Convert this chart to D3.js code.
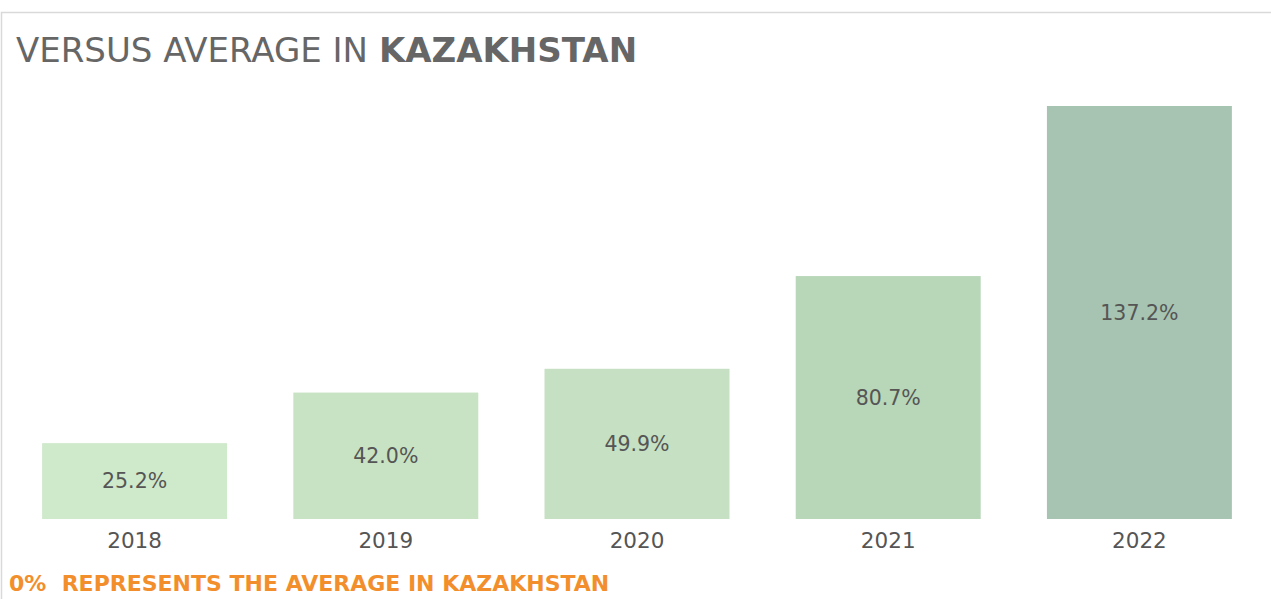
<!DOCTYPE html>
<html>
<head>
<meta charset="utf-8">
<script src="https://cdn.jsdelivr.net/npm/d3@7"></script>
<style>
  body { margin: 0; background: #fff; }
  svg { display: block; font-family: "DejaVu Sans", sans-serif; }
</style>
</head>
<body>
<svg id="chart" width="1271" height="599"></svg>
<script>
var years = ["2018", "2019", "2020", "2021", "2022"];
var values = [25.2, 42.0, 49.9, 80.7, 137.2];
var barColors = ["#cfe9cb", "#c8e3c3", "#c5e0c2", "#b8d6b8", "#a6c4b1"];

var margin = { top: 106, right: 6, bottom: 80, left: 9 },
  width = 1271 - margin.left - margin.right,
  height = 599 - margin.top - margin.bottom;

var svg = d3.select("#chart");

// frame lines (top + left)
svg.append("path")
  .attr("d", "M1.5,599 V12.5 H1271")
  .attr("fill", "none")
  .attr("stroke", "#d9d9d9")
  .attr("stroke-width", 1.5);

var title = svg.append("text")
  .attr("x", 16)
  .attr("y", 62)
  .attr("fill", "#666")
  .style("font-size", "34px");
title.append("tspan").text("VERSUS AVERAGE IN ");
title.append("tspan").style("font-weight", "bold").text("KAZAKHSTAN");

var x = d3.scaleBand()
  .domain(years)
  .range([0, width])
  .paddingInner(0.2637)
  .paddingOuter(0.13185);

var y = d3.scaleLinear().domain([0, 137.2]).range([height, 0]);

var g = svg.append("g")
  .attr("transform", "translate(" + margin.left + "," + margin.top + ")");

g.selectAll(".bar")
  .data(values)
  .enter()
  .append("rect")
  .attr("class", "bar")
  .attr("x", function(d, i) { return x(years[i]); })
  .attr("y", function(d) { return y(d); })
  .attr("width", x.bandwidth())
  .attr("height", function(d) { return height - y(d); })
  .attr("fill", function(d, i) { return barColors[i]; });

g.selectAll(".label")
  .data(values)
  .enter()
  .append("text")
  .attr("class", "label")
  .attr("x", function(d, i) { return x(years[i]) + x.bandwidth() / 2; })
  .attr("y", function(d) { return (y(d) + height) / 2; })
  .attr("dy", "0.35em")
  .attr("text-anchor", "middle")
  .attr("fill", "#555")
  .style("font-size", "20.5px")
  .text(function(d) { return d.toFixed(1) + "%"; });

var xAxis = g.append("g")
  .attr("transform", "translate(0," + height + ")")
  .call(d3.axisBottom(x).tickSize(0).tickPadding(14));
xAxis.select(".domain").remove();
xAxis.selectAll("text")
  .attr("fill", "#555")
  .style("font-family", "DejaVu Sans, sans-serif")
  .style("font-size", "21.5px");

svg.append("text")
  .attr("x", 9)
  .attr("y", 591)
  .attr("fill", "#f28e2b")
  .style("font-size", "22px")
  .style("font-weight", "bold")
  .attr("xml:space", "preserve")
  .text("0%  REPRESENTS THE AVERAGE IN KAZAKHSTAN");
</script>
</body>
</html>
